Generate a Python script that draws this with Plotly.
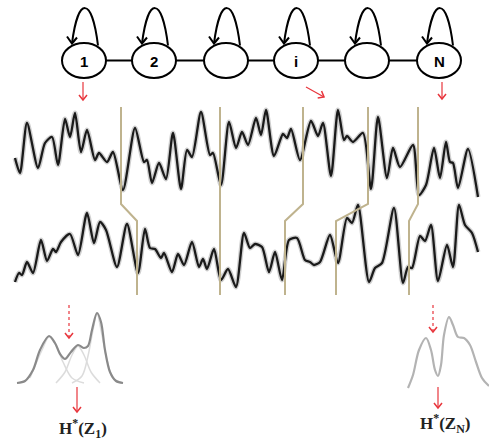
import math
import plotly.graph_objects as go

W, H = 489, 440

# ---- data ----
node_labels = ["1", "2", "", "i", "", "N"]
node_x = [84, 154, 226, 296, 367, 439]
node_y = 60.5

top_x = [15, 20, 27, 38, 45, 52, 58, 65, 70, 75, 81, 87, 95, 99, 107, 113, 123, 135, 144, 147,
         152, 159, 166, 173, 181, 187, 192, 201, 210, 213, 221, 229, 236, 242, 248, 256, 261,
         266, 274, 283, 287, 291, 300, 311, 318, 323, 331, 338, 344, 347, 353, 363, 371, 378,
         387, 393, 400, 413, 419, 426, 434, 440, 446, 450, 453, 458, 468, 478]
top_y = [158, 173, 123, 168, 143, 137, 165, 119, 137, 113, 152, 130, 160, 153, 162, 152, 190, 128, 162, 160,
         183, 163, 179, 133, 189, 150, 157, 112, 155, 153, 185, 122, 148, 132, 145, 118, 135,
         110, 156, 134, 138, 129, 160, 121, 136, 123, 176, 110, 140, 136, 142, 133, 189, 117,
         178, 148, 167, 145, 195, 185, 148, 178, 142, 162, 163, 188, 149, 197]

bot_x = [15, 19, 22, 27, 33, 41, 47, 53, 56, 61, 70, 78, 87, 94, 100, 106, 117, 127, 138, 145,
         150, 155, 161, 164, 172, 178, 184, 192, 199, 203, 207, 214, 221, 228, 236, 244, 250,
         255, 262, 269, 275, 282, 289, 297, 305, 310, 314, 320, 330, 338, 347, 352, 358, 369,
         375, 382, 394, 403, 408, 412, 420, 425, 431, 438, 447, 453, 459, 465, 472, 478]
bot_y = [282, 273, 275, 262, 273, 240, 261, 249, 252, 242, 234, 255, 213, 243, 222, 230, 267, 224, 273, 229,
         248, 249, 258, 253, 272, 254, 265, 242, 267, 259, 269, 249, 280, 269, 287, 233, 248,
         244, 247, 272, 252, 280, 240, 238, 260, 262, 265, 262, 235, 263, 218, 223, 205, 282,
         268, 263, 208, 283, 267, 268, 236, 241, 225, 281, 245, 267, 205, 225, 233, 252]

# segment boundaries: (x on top signal, x on bottom signal)
seg_top_x = [121, 220, 303, 368, 418]
seg_bot_x = [137, 220, 285, 336, 409]

# left mixture density and its components
mixL_x = [17, 25, 33, 40, 49, 55, 60, 65, 71, 78, 84, 88, 92, 97, 101, 105, 110, 116, 123]
mixL_y = [383, 381, 370, 350, 336, 343, 354, 359, 352, 345, 348, 346, 330, 313, 322, 350, 372, 381, 383]
compA_x = [30, 42, 49, 56, 63, 72, 84]
compA_y = [378, 350, 337, 345, 362, 378, 383]
compB_x = [56, 65, 72, 78, 84, 91, 100]
compB_y = [383, 372, 355, 346, 355, 372, 383]
compC_x = [72, 82, 88, 93, 97, 101, 107, 113, 123]
compC_y = [383, 376, 356, 330, 313, 330, 360, 378, 383]

# right mixture density
mixR_x = [408, 413, 419, 426, 431, 435, 438, 441, 444, 449, 453, 458, 464, 470, 476, 482, 489]
mixR_y = [388, 375, 350, 338, 350, 370, 376, 365, 335, 317, 325, 337, 338, 345, 362, 378, 386]

label_left = "<b>H<sup>*</sup>(Z<sub>1</sub>)</b>"
label_right = "<b>H<sup>*</sup>(Z<sub>N</sub>)</b>"

RED = "#e8353c"
TAN = "#bfb38e"

fig = go.Figure()
shapes = []
annotations = []


def arrow(x0, y0, x1, y1, color, width=1.2, dash="solid", head=5):
    shapes.append(dict(type="line", x0=x0, y0=y0, x1=x1, y1=y1,
                       line=dict(color=color, width=width, dash=dash)))
    L = math.hypot(x1 - x0, y1 - y0)
    ux, uy = (x1 - x0) / L, (y1 - y0) / L
    px, py = -uy, ux
    ax, ay = x1 - head * ux + head * 0.8 * px, y1 - head * uy + head * 0.8 * py
    bx, by = x1 - head * ux - head * 0.8 * px, y1 - head * uy - head * 0.8 * py
    shapes.append(dict(type="path",
                       path=f"M {ax:.2f},{ay:.2f} L {x1:.2f},{y1:.2f} L {bx:.2f},{by:.2f}",
                       line=dict(color=color, width=width + 0.3)))


# ---- state chain ----
shapes.append(dict(type="line", x0=node_x[0], y0=node_y, x1=node_x[-1], y1=node_y,
                   line=dict(color="black", width=2)))
for cx, lab in zip(node_x, node_labels):
    # self loop
    shapes.append(dict(type="path",
                       path=f"M {cx-12},{node_y-17} C {cx-6},{-4} {cx+8},{-4} {cx+14},{node_y-15}",
                       line=dict(color="black", width=2)))
    # arrowhead on the left leg
    tipx, tipy = cx - 12, node_y - 17
    shapes.append(dict(type="path",
                       path=f"M {tipx-5},{tipy-7} L {tipx},{tipy} L {tipx+5},{tipy-6}",
                       line=dict(color="black", width=2)))
    shapes.append(dict(type="circle", x0=cx - 22, x1=cx + 22, y0=node_y - 17.5, y1=node_y + 17.5,
                       line=dict(color="black", width=2), fillcolor="white"))
    if lab:
        annotations.append(dict(x=cx, y=node_y + 1, text=f"<b>{lab}</b>", showarrow=False,
                                font=dict(family="Liberation Sans", size=15, color="black")))

# red arrows from states
arrow(node_x[0] - 1, 82, node_x[0] - 1, 100, RED)
arrow(306, 87, 324, 97, RED)
arrow(node_x[-1] + 3, 82, node_x[-1] + 3, 99, RED)

# ---- segment boundaries ----
for xt, xb in zip(seg_top_x, seg_bot_x):
    shapes.append(dict(type="path",
                       path=f"M {xt},107 L {xt},204 L {xb},221 L {xb},295",
                       line=dict(color=TAN, width=2)))

# ---- signals ----
for xs, ys in [(top_x, top_y), (bot_x, bot_y)]:
    fig.add_trace(go.Scatter(x=xs, y=ys, mode="lines",
                             line=dict(color="rgba(120,120,120,0.35)", width=5, shape="spline", smoothing=0.7),
                             hoverinfo="skip", showlegend=False))
    fig.add_trace(go.Scatter(x=xs, y=ys, mode="lines",
                             line=dict(color="#1a1a1a", width=2.3, shape="spline", smoothing=0.7),
                             hoverinfo="skip", showlegend=False))

# ---- densities ----
for xs, ys in [(compA_x, compA_y), (compB_x, compB_y), (compC_x, compC_y)]:
    fig.add_trace(go.Scatter(x=xs, y=ys, mode="lines",
                             line=dict(color="#dcdcdc", width=1.5, shape="spline", smoothing=0.9),
                             hoverinfo="skip", showlegend=False))
fig.add_trace(go.Scatter(x=mixL_x, y=mixL_y, mode="lines",
                         line=dict(color="#8a8a8a", width=2.2, shape="spline", smoothing=0.9),
                         hoverinfo="skip", showlegend=False))
fig.add_trace(go.Scatter(x=mixR_x, y=mixR_y, mode="lines",
                         line=dict(color="#b3b3b3", width=2.2, shape="spline", smoothing=0.9),
                         hoverinfo="skip", showlegend=False))

arrow(69, 305, 69, 338, RED, dash="dot")
arrow(77, 387, 77, 412, RED)
arrow(433, 305, 433, 332, RED, dash="dot")
arrow(438, 387, 438, 408, RED)

annotations.append(dict(x=83, y=428, text=label_left, showarrow=False,
                        font=dict(family="Liberation Serif", size=17, color="#222")))
annotations.append(dict(x=445, y=423, text=label_right, showarrow=False,
                        font=dict(family="Liberation Serif", size=17, color="#222")))

fig.update_layout(
    width=W, height=H, margin=dict(l=0, r=0, t=0, b=0),
    paper_bgcolor="white", plot_bgcolor="white",
    xaxis=dict(range=[0, W], visible=False, fixedrange=True),
    yaxis=dict(range=[H, 0], visible=False, fixedrange=True),
    shapes=shapes, annotations=annotations, showlegend=False,
)

fig.write_html("out.html")
